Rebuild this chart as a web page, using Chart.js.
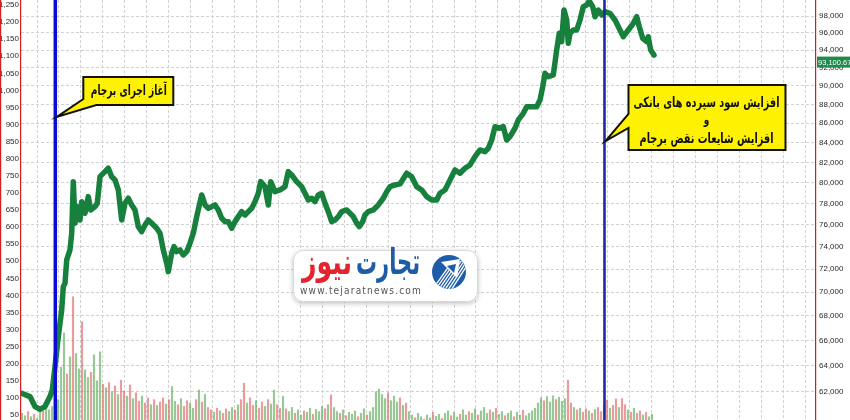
<!DOCTYPE html>
<html><head><meta charset="utf-8">
<script src="https://cdn.jsdelivr.net/npm/chart.js@4.4.1/dist/chart.umd.min.js"></script>
<style>html,body{margin:0;padding:0;background:#fff}#wrap{width:850px;height:420px;position:relative}</style>
</head><body><div id="wrap"><canvas id="c"></canvas></div>
<script>
// x unit = one grid column (week index)
const priceWeek = [-0.70,-0.319,-0.091,0.137,0.364,0.592,0.697,0.820,0.970,1.125,
1.198,1.276,1.353,1.503,1.581,1.654,1.731,1.836,1.959,2.036,
2.187,2.337,2.446,2.642,2.747,2.870,3.098,3.248,3.403,3.554,
3.704,3.859,4.009,4.159,4.314,4.465,4.615,4.770,4.920,5.071,
5.226,5.453,5.604,5.754,5.909,5.982,6.137,6.241,6.364,6.515,
6.665,6.820,6.970,7.121,7.276,7.503,7.654,7.804,7.959,8.109,
8.260,8.415,8.565,8.715,8.870,9.021,9.171,9.326,9.476,9.626,
9.781,9.932,10.082,10.191,10.387,10.538,10.647,10.843,11.071,11.298,
11.449,11.604,11.831,12.059,12.210,12.360,12.515,12.665,12.815,12.970,
13.121,13.271,13.426,13.576,13.727,13.882,14.109,14.260,14.410,14.565,
14.683,14.838,14.943,15.093,15.321,15.549,15.777,15.932,16.082,16.310,
16.538,16.843,17.071,17.298,17.526,17.754,17.982,18.210,18.360,18.588,
18.815,19.043,19.271,19.499,19.727,19.954,20.182,20.410,20.560,20.715,
20.866,21.062,21.244,21.399,21.549,21.777,21.927,22.155,22.310,22.538,
22.765,22.916,23.039,23.144,23.294,23.522,23.677,23.795,23.904,24.009,
24.132,24.205,24.282,24.433,24.588,24.738,24.888,25.043,25.162,25.317,
25.421,25.572,25.727,25.877,26.105,26.333,26.560,26.711,26.939,27.166,
27.321,27.440,27.594,27.777,27.845,27.959,28.109];
const priceValue = [61896,61640,60894,60701,60894,61640,62145,63934,66313,68505,
70478,70770,72807,73700,75214,80091,76135,77690,76442,78165,
77068,78642,77378,77690,78012,80580,81072,81410,80580,80257,
79286,76442,78012,78489,77851,77378,75821,75361,75978,76442,
76135,75673,75214,73700,72515,71777,73404,73996,73547,73700,
73252,73547,74303,75214,76750,78805,77851,77539,77690,77851,
77378,76600,76284,76284,75673,76284,76750,77218,76909,77218,
77539,78165,78968,80091,79605,77851,80091,79122,79286,79605,
81072,80745,80091,79605,78968,78327,78489,78165,78805,78968,
78012,77218,76284,76442,76750,77218,77378,77068,76750,76135,
75821,76284,76909,77218,77378,77851,78489,79122,79605,79770,
79870,80914,80580,79605,79286,78642,78327,78327,78968,79286,
80257,81240,80914,81410,81737,82567,83243,83071,83416,84263,
85639,85473,85639,84263,84602,85473,86341,87049,87750,87750,
87750,88470,89914,91394,91016,91205,94025,95957,94980,98718,
97524,94795,95957,96343,96343,97524,99116,99322,99800,99116,
97917,98718,98120,98515,98323,97524,96343,95560,96343,97133,
97917,96731,95374,94980,95560,94025,93454];
const lastValue = 93100.67;

// daily volume (left axis), first bar at volStart, one bar per volStep
const volStart = -0.683, volStep = 0.13667;
const volume = [55,48,60,45,52,40,58,62,70,65,
75,80,95,190,290,170,220,396,230,185,
323,182,160,175,226,150,235,140,130,145,
118,135,110,152,120,105,138,98,115,90,
105,85,100,80,95,78,88,100,82,95,
133,90,80,98,75,92,85,70,95,123,
88,110,72,65,58,70,62,55,68,60,
72,65,80,95,143,85,100,78,92,70,
88,75,95,82,123,80,70,105,68,60,
72,55,65,50,62,58,70,52,66,60,
75,68,80,109,72,60,55,65,48,58,
52,62,45,55,68,50,60,72,118,126,
110,98,115,92,105,88,100,78,85,60,
50,42,55,45,38,50,42,58,46,52,
40,55,62,48,58,44,52,65,50,60,
55,68,50,62,72,55,65,58,70,52,
60,48,55,62,45,58,50,64,48,55,
62,70,85,100,92,104,88,106,95,102,
90,98,152,85,72,65,70,58,68,62,
55,66,72,60,80,94,70,78,97,72,
98,80,65,58,70,55,62,50,58,45,52];
const volDir = ("GGRGRGGRGG"+"GGGGGRGRGG"+"RGGRGGGRGR"+"GRGRRGRGRR"+"GRRGRGRRGR"+
"GGRGRRGGRG"+"RGRRGRGRRG"+"GRGRRGRRGR"+"RGRGGRRGRG"+"GRGGRGGRGG"+
"GRGRGGRGRG"+"GGRGGRGGGG"+"GGRGGGRGRG"+"GRGGRGGRGG"+"RGGRGGRGGR"+
"GGRGGGRGRG"+"GRGGRGGRGG"+"GGGGRGGGRG"+"GGRRGRGRRG"+"RGRRGRGRRG"+"RRGRGRRGRGG").split('');

// axis ranges and ticks
const xMin = -0.729, xMax = 35.49;
const volMin = 35.4, volMax = 1264.6;
const priceMin = 59908, priceMax = 99929;
const volTicks = []; for (let v = 50; v <= 1250; v += 50) volTicks.push(v);
const priceTicks = []; for (let v = 62000; v <= 98000; v += 2000) priceTicks.push(v);
const gridWeeks = []; for (let k = 0; k <= 35; k++) gridWeeks.push(k);

// events
const eventWeeks = [0.834, 25.854];
const eventColors = ['#0b0bd6', '#1d2aa6'];
const eventWidths = [3.5, 2.6];
const callout1 = ['آغاز اجرای برجام'];
const callout2 = ['افزایش سود سپرده های بانکی', 'و', 'افزایش شایعات نقض برجام'];
const logoWords = ['تجارت', 'نیوز'];
const logoUrl = 'www.tejaratnews.com';

const fmt = v => Number(v).toLocaleString('en-US');
const tickFont = {family: "'Liberation Sans', Arial, sans-serif", size: 8};
const AR = "'DejaVu Sans', sans-serif";

// draw text with a given font, squeezed horizontally to a target width (or by factor k)
function drawFit(ctx, text, font, cx, cy, width, rtl, kFixed) {
  ctx.font = font;
  ctx.direction = rtl ? 'rtl' : 'ltr';
  ctx.textAlign = 'center'; ctx.textBaseline = 'middle';
  const w = ctx.measureText(text).width || 1;
  const k = kFixed || (width ? width / w : 1);
  ctx.save(); ctx.translate(cx, cy); ctx.scale(k, 1); ctx.fillText(text, 0, 0); ctx.restore();
  return k;
}
function shape(ctx, pts, fill) {
  ctx.beginPath();
  pts.forEach((p, i) => i ? ctx.lineTo(p[0], p[1]) : ctx.moveTo(p[0], p[1]));
  ctx.closePath();
  ctx.fillStyle = fill; ctx.fill();
  ctx.lineWidth = 2; ctx.strokeStyle = '#111'; ctx.lineJoin = 'miter'; ctx.stroke();
}

const overlay = {
  id: 'overlay',
  afterDatasetsDraw(chart) {
    const {ctx, chartArea: a, scales} = chart;
    ctx.save();
    eventWeeks.forEach((w, i) => {
      const px = scales.x.getPixelForValue(w);
      ctx.strokeStyle = eventColors[i]; ctx.lineWidth = eventWidths[i];
      ctx.beginPath(); ctx.moveTo(px, a.top); ctx.lineTo(px, a.bottom); ctx.stroke();
    });
    ctx.restore();
  },
  afterDraw(chart) {
    const {ctx, chartArea: a, scales} = chart;
    ctx.save();
    // left edge line
    ctx.strokeStyle = '#d42020'; ctx.lineWidth = 1.2;
    ctx.beginPath(); ctx.moveTo(0.6, 0); ctx.lineTo(0.6, 420); ctx.stroke();

    const e1 = scales.x.getPixelForValue(eventWeeks[0]);
    const e2 = scales.x.getPixelForValue(eventWeeks[1]);
    // callout 1
    shape(ctx, [[e1+28,77],[e1+118,77],[e1+118,105],[e1+41,105],[e1+1.5,117],[e1+28,99]], '#fff200');
    ctx.fillStyle = '#111';
    drawFit(ctx, callout1[0], "bold 14px " + AR, e1+73.5, 91, 76, true);
    // callout 2
    shape(ctx, [[e2+24,85],[e2+181,85],[e2+181,150],[e2+24,150],[e2+24,128],[e2+1,141],[e2+24,114]], '#fff200');
    ctx.fillStyle = '#111';
    const k2 = drawFit(ctx, callout2[0], "bold 14px " + AR, e2+102, 103, 146, true);
    drawFit(ctx, callout2[1], "bold 13px " + AR, e2+102, 121, 0, true, k2);
    drawFit(ctx, callout2[2], "bold 14px " + AR, e2+102, 139, 134, true);

    // logo
    ctx.save();
    ctx.shadowColor = 'rgba(0,0,0,0.25)'; ctx.shadowBlur = 5; ctx.shadowOffsetY = 1.5;
    ctx.beginPath(); ctx.roundRect(293, 250, 185, 52, 10);
    ctx.fillStyle = '#fff'; ctx.fill();
    ctx.restore();
    ctx.strokeStyle = '#d8d8d8'; ctx.lineWidth = 1;
    ctx.beginPath(); ctx.roundRect(293.5, 250.5, 184, 51, 10); ctx.stroke();
    ctx.fillStyle = '#1f5ca8';
    drawFit(ctx, logoWords[0], "bold 36px " + AR, 388, 265, 64, true);
    ctx.fillStyle = '#e2242d';
    drawFit(ctx, logoWords[1], "bold 36px " + AR, 327, 265, 50, true);
    ctx.fillStyle = '#555';
    ctx.letterSpacing = '1.3px';
    drawFit(ctx, logoUrl, "10px 'DejaVu Sans', sans-serif", 361, 291, 122, false);
    ctx.letterSpacing = '0px';
    // icon
    ctx.save();
    ctx.beginPath(); ctx.arc(449, 272, 17, 0, Math.PI*2); ctx.fillStyle = '#1f5ca8'; ctx.fill();
    ctx.clip();
    ctx.strokeStyle = '#fff'; ctx.lineWidth = 1.3;
    for (let k = 0; k < 7; k++) {
      ctx.beginPath(); ctx.moveTo(432 + k*3.2, 290); ctx.lineTo(452 + k*3.2, 262 - k*0.5); ctx.stroke();
    }
    ctx.fillStyle = '#fff';
    ctx.beginPath(); ctx.moveTo(441, 262); ctx.lineTo(460, 259); ctx.lineTo(457, 278); ctx.closePath(); ctx.fill();
    ctx.fillStyle = '#1f5ca8';
    ctx.beginPath(); ctx.moveTo(447, 266); ctx.lineTo(456, 264); ctx.lineTo(454, 273); ctx.closePath(); ctx.fill();
    ctx.restore();

    // last value tag
    const ly = scales.yP.getPixelForValue(lastValue) + 4;
    ctx.fillStyle = '#1e8a4c'; ctx.fillRect(a.right + 1, ly - 5.5, 850 - a.right - 1, 11);
    ctx.fillStyle = '#fff'; ctx.font = "7.5px 'Liberation Sans', Arial, sans-serif";
    ctx.textAlign = 'left'; ctx.textBaseline = 'middle'; ctx.direction = 'ltr';
    ctx.fillText(lastValue.toLocaleString('en-US', {minimumFractionDigits: 2}), a.right + 2, ly + 0.5);
    ctx.restore();
  }
};

const lineData = priceWeek.map((w, i) => ({x: w, y: priceValue[i]}));
const barData = volume.map((v, i) => ({x: volStart + i * volStep, y: v}));
const barColors = volDir.map(d => d === 'G' ? 'rgba(80,165,80,0.6)' : 'rgba(220,90,90,0.6)');

new Chart(document.getElementById('c'), {
  type: 'line',
  data: {
    datasets: [
      {type: 'line', data: lineData, xAxisID: 'x', yAxisID: 'yP', borderColor: '#17803d',
       borderWidth: 5.5, borderJoinStyle: 'round', borderCapStyle: 'round',
       pointRadius: 0, tension: 0, order: 0, fill: false},
      {type: 'bar', data: barData, xAxisID: 'x', yAxisID: 'yV', backgroundColor: barColors,
       barThickness: 1.5, borderWidth: 0, order: 1}
    ]
  },
  options: {
    responsive: true, maintainAspectRatio: false, animation: false, devicePixelRatio: 1,
    layout: {padding: 0},
    plugins: {legend: {display: false}, tooltip: {enabled: false}},
    scales: {
      x: {type: 'linear', min: xMin, max: xMax, offset: false,
          ticks: {display: false}, grid: {color: '#d2d2d2', drawTicks: false, offset: false},
          border: {display: false, dash: [3, 2]},
          afterBuildTicks: s => { s.ticks = gridWeeks.map(v => ({value: v})); },
          afterFit: s => { s.height = 0; s.paddingLeft = 0; s.paddingRight = 0; s.paddingTop = 0; s.paddingBottom = 0; }},
      yV: {type: 'linear', position: 'left', min: volMin, max: volMax, beginAtZero: false,
           grid: {display: false, drawTicks: false}, border: {display: true, color: '#d42020', width: 1.2},
           ticks: {font: tickFont, color: '#2a2a2a', padding: 2, autoSkip: false, callback: v => fmt(v)},
           afterBuildTicks: s => { s.ticks = volTicks.map(v => ({value: v})); },
           afterFit: s => { s.width = 21; s.paddingTop = 0; s.paddingBottom = 0; }},
      yP: {type: 'logarithmic', position: 'right', min: priceMin, max: priceMax,
           grid: {color: '#d2d2d2', drawTicks: false}, border: {display: true, color: '#c81e1e', width: 1.2, dash: [3, 2]},
           ticks: {font: tickFont, color: '#2a2a2a', padding: 3, autoSkip: false, callback: v => fmt(v)},
           afterBuildTicks: s => { s.ticks = priceTicks.map(v => ({value: v})); },
           afterFit: s => { s.width = 34; s.paddingTop = 0; s.paddingBottom = 0; }}
    }
  },
  plugins: [overlay]
});
</script></body></html>
